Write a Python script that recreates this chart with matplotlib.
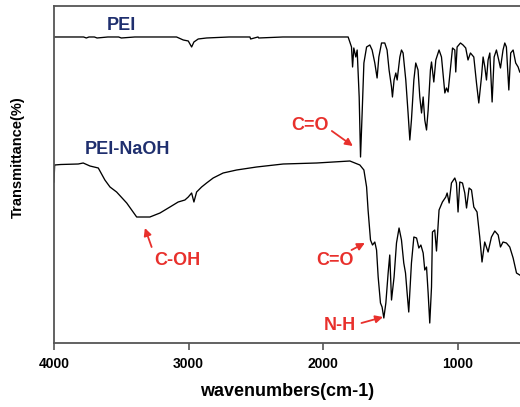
import matplotlib
matplotlib.use("Agg")
from matplotlib import pyplot as plt

# PEI spectrum (wavenumber, transmittance in arbitrary units)
pei_wn = [4000, 3900, 3780, 3760, 3740, 3700, 3680, 3600, 3520, 3500, 3400,
          3200, 3090, 3040, 3003, 2978, 2961, 2929, 2867, 2700, 2545, 2540,
          2485, 2480, 2300, 2000, 1878, 1816, 1791, 1783, 1774, 1759, 1749,
          1734, 1724, 1712, 1699, 1679, 1655, 1638, 1618, 1601, 1588, 1568,
          1544, 1527, 1512, 1494, 1487, 1475, 1462, 1452, 1432, 1420, 1408,
          1388, 1371, 1358, 1346, 1328, 1314, 1297, 1284, 1271, 1259, 1247,
          1234, 1222, 1205, 1197, 1180, 1165, 1141, 1123, 1098, 1086, 1074,
          1041, 1024, 1017, 1007, 982, 963, 943, 926, 908, 883, 863, 846,
          826, 814, 801, 789, 777, 764, 747, 732, 715, 698, 685, 666, 653,
          641, 623, 609, 591, 572, 554, 542]
pei_t = [306, 306, 306, 305, 306, 306, 305, 306, 306, 305, 306,
         306, 306, 303, 302, 296, 301, 304, 305, 306, 306, 304,
         306, 305, 306, 306, 306, 306, 296, 276, 295, 286, 293,
         246, 186, 230, 280, 296, 298, 293, 280, 265, 286, 300,
         300, 293, 273, 256, 246, 263, 270, 263, 286, 293, 290,
         263, 230, 203, 223, 263, 280, 273, 246, 230, 246, 223,
         213, 233, 273, 281, 261, 283, 293, 286, 250, 255, 251,
         295, 293, 271, 296, 300, 298, 295, 283, 290, 286, 260, 240,
         266, 286, 276, 263, 283, 290, 241, 286, 293, 283, 275, 293, 300,
         296, 253, 290, 293, 280, 276, 271]

# PEI-NaOH spectrum
naoh_wn = [4000, 3995, 3950, 3820, 3783, 3733, 3671, 3622, 3584, 3535, 3460,
           3386, 3288, 3213, 3139, 3078, 3028, 3003, 2978, 2961, 2941, 2904,
           2867, 2818, 2744, 2644, 2496, 2298, 2050, 1803, 1729, 1699, 1679,
           1668, 1650, 1635, 1618, 1605, 1593, 1576, 1564, 1551, 1536, 1519,
           1507, 1494, 1475, 1457, 1438, 1420, 1403, 1390, 1378, 1366, 1346,
           1328, 1308, 1291, 1276, 1259, 1247, 1234, 1222, 1210, 1197, 1190,
           1173, 1160, 1141, 1116, 1091, 1081, 1066, 1049, 1024, 1012, 1000,
           987, 967, 950, 937, 918, 900, 883, 859, 839, 822, 802, 777, 752,
           727, 702, 685, 666, 641, 616, 591, 566, 542]
naoh_t = [161, 178, 178.5, 179, 180, 177, 175, 163, 156, 151, 140,
          126, 126, 130, 136, 141, 143, 146, 150, 141, 151, 156,
          160, 165, 170, 173, 176, 179, 180, 182, 178, 173, 156,
          133, 103, 98, 101, 93, 66, 40, 36, 25, 40, 70,
          88, 43, 66, 100, 115, 103, 80, 70, 50, 31, 80,
          106, 105, 95, 98, 90, 73, 76, 50, 20, 56, 111,
          113, 92, 133, 141, 146, 150, 140, 160, 165, 160, 131,
          161, 160, 150, 135, 155, 153, 136, 131, 106, 81, 101, 91, 106,
          112, 108, 96, 101, 100, 96, 85, 70, 68]

x_ticks = [4000, 3000, 2000, 1000]

plt.rcParams['font.family'] = ['Liberation Sans', 'DejaVu Sans']

fig = plt.figure(figsize=(5.2, 4.07), dpi=100)
ax = fig.add_axes([0.1038, 0.1572, 0.8962, 0.8281])

ax.plot(pei_wn, pei_t, color='black', linewidth=0.95)
ax.plot(naoh_wn, naoh_t, color='black', linewidth=0.95)

ax.set_xlim(4000, 540)
ax.set_ylim(0, 337)
ax.set_xticks(x_ticks)
ax.set_xticklabels([str(t) for t in x_ticks], fontweight='bold', fontsize=10)
ax.set_yticks([])
ax.tick_params(axis='x', direction='out', length=5, width=1.2, color='#555555', pad=5)

for side in ['top', 'left', 'bottom']:
    ax.spines[side].set_color('#555555')
    ax.spines[side].set_linewidth(1.3)
ax.spines['right'].set_visible(False)

ax.set_xlabel('wavenumbers(cm-1)', fontweight='bold', fontsize=13, labelpad=9)
ax.set_ylabel('Transmittance(%)', fontweight='bold', fontsize=10.5)
ax.yaxis.set_label_coords(-0.062, 0.552)

navy = '#1f2f6e'
red = '#e8302c'
ax.text(3607, 317, 'PEI', color=navy, fontweight='bold', fontsize=13, va='center', ha='left')
ax.text(3770, 193, 'PEI-NaOH', color=navy, fontweight='bold', fontsize=13, va='center', ha='left')

labels = [('C=O', 2100, 217), ('C-OH', 3087, 83), ('C=O', 1915, 83), ('N-H', 1878, 18)]
for txt, lx, ly in labels:
    ax.text(lx, ly, txt, color=red, fontweight='bold', fontsize=13, ha='center', va='center')

arrow_tails = [(1937, 212), (3275, 96), (1791, 93), (1717, 20)]
arrow_tips = [(1781, 197), (3325, 115), (1692, 100), (1557, 26)]
arrow = dict(arrowstyle='-|>', color=red, lw=1.3, mutation_scale=11, shrinkA=0, shrinkB=0)
for tail, tip in zip(arrow_tails, arrow_tips):
    ax.annotate('', xy=tip, xytext=tail, arrowprops=arrow)

fig.savefig('out.png', dpi=100)
